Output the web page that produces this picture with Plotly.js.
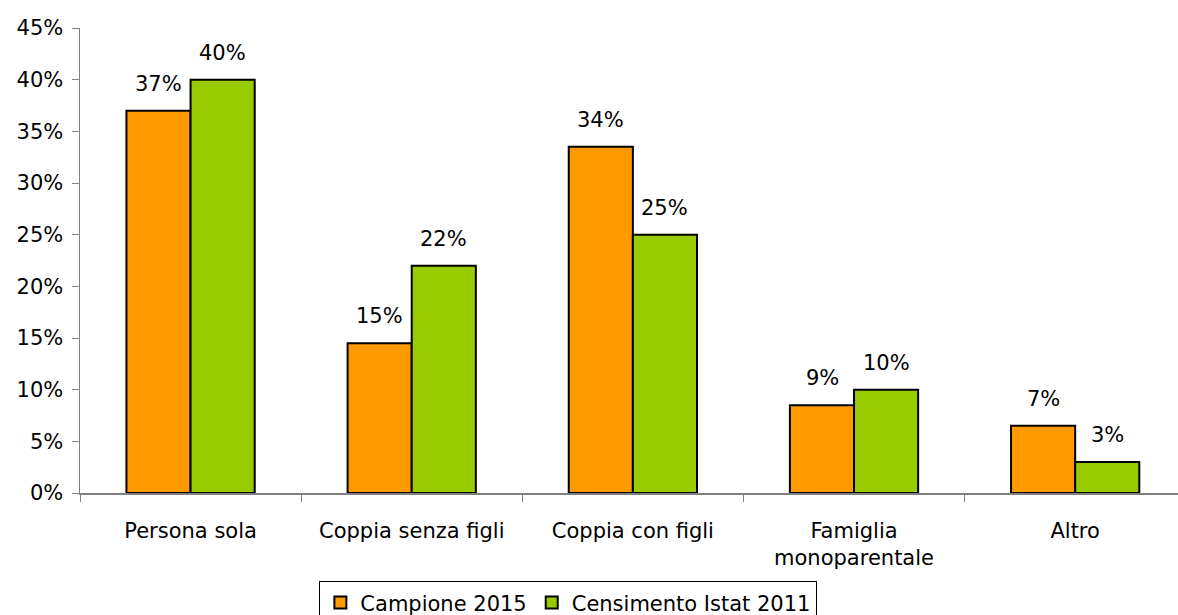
<!DOCTYPE html>
<html><head><meta charset="utf-8">
<script src="https://cdn.plot.ly/plotly-3.0.1.min.js"></script>
<style>html,body{margin:0;padding:0;background:#fff;}#chart{width:1178px;height:615px;}</style>
</head><body><div id="chart"></div>
<script>
const categories = ["Persona sola", "Coppia senza figli", "Coppia con figli", "Famiglia<br>monoparentale", "Altro"];
const campione2015 = [37, 14.5, 33.5, 8.5, 6.5];
const censimento2011 = [40, 22, 25, 10, 3];
const seriesNames = ["Campione 2015", "Censimento Istat 2011"];
const yTicks = [0, 5, 10, 15, 20, 25, 30, 35, 40, 45];

const FONT = "DejaVu Sans, sans-serif";
function bar(name, vals, color) {
  return {
    type: "bar", name: name, x: categories, y: vals,
    marker: {color: color, line: {color: "#000", width: 2}},
    hoverinfo: "none"
  };
}
const data = [bar(seriesNames[0], campione2015, "#ff9900"), bar(seriesNames[1], censimento2011, "#99cc00")];
const annotations = [];
[[campione2015, -32], [censimento2011, 32]].forEach(([vals, dx]) => {
  vals.forEach((v, i) => annotations.push({
    x: categories[i], y: v, xref: "x", yref: "y", text: Math.round(v) + "%",
    showarrow: false, xshift: dx, yshift: 13, yanchor: "bottom",
    font: {family: FONT, size: 21, color: "#000"}
  }));
});
const layout = {
  width: 1178, height: 615,
  margin: {l: 80, r: 0, t: 28, b: 122, pad: 0, autoexpand: false},
  paper_bgcolor: "#fff", plot_bgcolor: "#fff",
  barmode: "group", bargap: 0.42, bargroupgap: 0,
  font: {family: FONT, size: 21, color: "#000"},
  annotations: annotations,
  xaxis: {type: "category", range: [-0.5, 4.465], tickson: "boundaries",
    ticks: "outside", ticklen: 7, tickcolor: "#808080", tickwidth: 1,
    showline: true, linecolor: "#808080", linewidth: 1.5, ticklabelstandoff: 18,
    tickfont: {family: FONT, size: 21, color: "#000"}, automargin: false},
  yaxis: {range: [0, 45], tickvals: yTicks, ticktext: yTicks.map(v => v + "%"),
    ticks: "outside", ticklen: 7, tickcolor: "#808080", tickwidth: 1,
    showline: true, linecolor: "#808080", linewidth: 1.5, showgrid: false, zeroline: false,
    ticklabelstandoff: 4,
    tickfont: {family: FONT, size: 21, color: "#000"}, automargin: false},
  showlegend: true,
  legend: {orientation: "h", x: 0.218, xanchor: "left", y: -0.19, yanchor: "top",
    bordercolor: "#000", borderwidth: 1, font: {family: FONT, size: 21, color: "#000"},
    itemwidth: 30, tracegroupgap: 0}
};
Plotly.newPlot("chart", data, layout, {displayModeBar: false, staticPlot: true});
</script></body></html>
